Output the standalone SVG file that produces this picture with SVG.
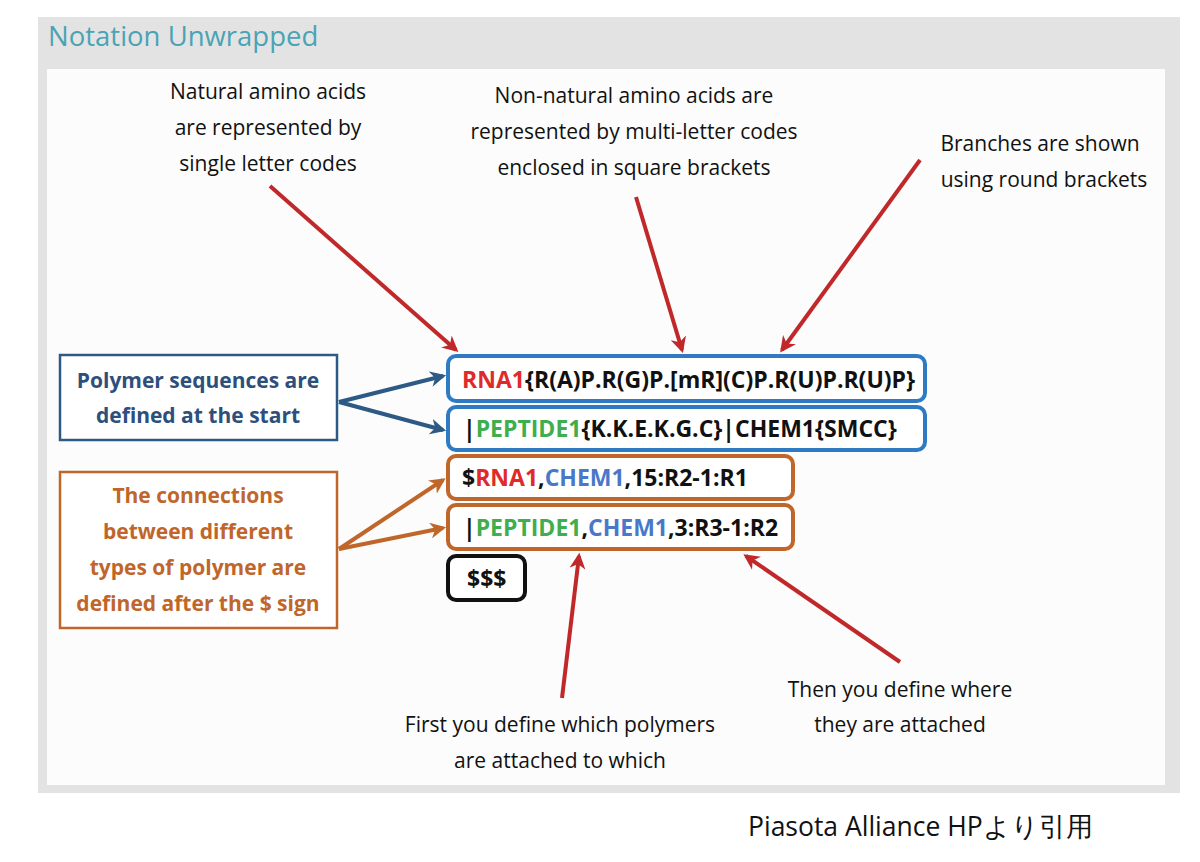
<svg xmlns="http://www.w3.org/2000/svg" width="1200" height="862" viewBox="0 0 1200 862">
<defs>
<marker id="ar" viewBox="0 0 10 10" refX="8" refY="5" markerWidth="4" markerHeight="4" orient="auto"><path d="M0,0 L10,5 L0,10 L3,5 z" fill="#c0282a"/></marker>
<marker id="ab" viewBox="0 0 10 10" refX="8" refY="5" markerWidth="4" markerHeight="4" orient="auto"><path d="M0,0 L10,5 L0,10 L3,5 z" fill="#2d5a84"/></marker>
<marker id="ao" viewBox="0 0 10 10" refX="8" refY="5" markerWidth="4" markerHeight="4" orient="auto"><path d="M0,0 L10,5 L0,10 L3,5 z" fill="#c0662a"/></marker>
</defs>
<style>
text{font-family:"Open Sans","Noto Sans",sans-serif}
.n{font-size:21px;fill:#111;text-anchor:middle}
.c{font-size:23px;font-weight:bold;fill:#111}
.r{fill:#e02a2a}.g{fill:#3fae4f}.b{fill:#4a78c8}
.bx{fill:#fff;stroke-width:4}
.lr{stroke:#c0282a;stroke-width:4;fill:none}
.lb{stroke:#2d5a84;stroke-width:4;fill:none}
.lo{stroke:#c0662a;stroke-width:4;fill:none}
</style>
<rect width="1200" height="862" fill="#fff"/>
<rect x="38" y="17" width="1142" height="776" fill="#e3e3e3"/>
<rect x="47" y="69" width="1118" height="716" fill="#fbfcfb"/>
<text x="48" y="46" font-size="27.5" fill="#4aa3b5">Notation Unwrapped</text>
<g id="t1"><text class="n" x="268" y="99">Natural amino acids</text><text class="n" x="268" y="135">are represented by</text><text class="n" x="268" y="171">single letter codes</text></g>
<g id="t2"><text class="n" x="634" y="103">Non-natural amino acids are</text><text class="n" x="634" y="139">represented by multi-letter codes</text><text class="n" x="634" y="175">enclosed in square brackets</text></g>
<g id="t3"><text class="n" x="1040" y="151">Branches are shown</text><text class="n" x="1044" y="187">using round brackets</text></g>
<g id="t4"><text class="n" x="560" y="732">First you define which polymers</text><text class="n" x="560" y="768">are attached to which</text></g>
<g id="t5"><text class="n" x="900" y="697">Then you define where</text><text class="n" x="900" y="732">they are attached</text></g>
<g id="lb"><rect x="60" y="355" width="277" height="85" fill="#fff" stroke="#2d5a84" stroke-width="2.5"/><text x="198" y="388" font-size="21" font-weight="bold" fill="#2d4f7c" text-anchor="middle">Polymer sequences are</text><text x="198" y="423" font-size="21" font-weight="bold" fill="#2d4f7c" text-anchor="middle">defined at the start</text></g>
<g id="lo"><rect x="60" y="472" width="277" height="156" fill="#fff" stroke="#c0662a" stroke-width="2.5"/>
<g font-size="21" font-weight="bold" fill="#c0662a" text-anchor="middle"><text x="198" y="503">The connections</text><text x="198" y="539">between different</text><text x="198" y="575">types of polymer are</text><text x="198" y="611">defined after the $ sign</text></g></g>
<g id="b1"><rect class="bx" x="448" y="356" width="477" height="45" rx="8" stroke="#2e7bc4"/><text class="c" x="462" y="388"><tspan class="r">RNA1</tspan>{R(A)P.R(G)P.[mR](C)P.R(U)P.R(U)P}</text></g>
<g id="b2"><rect class="bx" x="448" y="407" width="477" height="43" rx="8" stroke="#2e7bc4"/><text class="c" x="463" y="437">|<tspan class="g">PEPTIDE1</tspan>{K.K.E.K.G.C}|CHEM1{SMCC}</text></g>
<g id="b3"><rect class="bx" x="448" y="456" width="345" height="43" rx="8" stroke="#c0662a"/><text class="c" x="462" y="486">$<tspan class="r">RNA1</tspan>,<tspan class="b">CHEM1</tspan>,15:R2-1:R1</text></g>
<g id="b4"><rect class="bx" x="448" y="505" width="345" height="44" rx="8" stroke="#c0662a"/><text class="c" x="463" y="536">|<tspan class="g">PEPTIDE1</tspan>,<tspan class="b">CHEM1</tspan>,3:R3-1:R2</text></g>
<g id="b5"><rect class="bx" x="448" y="556" width="77" height="44" rx="8" stroke="#111"/><text class="c" x="467" y="587">$$$</text></g>
<g id="connectors">
<line class="lr" x1="270" y1="186" x2="456" y2="350" marker-end="url(#ar)"/>
<line class="lr" x1="636" y1="197" x2="682" y2="350" marker-end="url(#ar)"/>
<line class="lr" x1="920" y1="160" x2="782" y2="350" marker-end="url(#ar)"/>
<line class="lr" x1="562" y1="698" x2="579" y2="556" marker-end="url(#ar)"/>
<line class="lr" x1="900" y1="662" x2="746" y2="556" marker-end="url(#ar)"/>
<line class="lb" x1="339" y1="402" x2="443" y2="376" marker-end="url(#ab)"/>
<line class="lb" x1="339" y1="402" x2="443" y2="430" marker-end="url(#ab)"/>
<line class="lo" x1="339" y1="549" x2="443" y2="480" marker-end="url(#ao)"/>
<line class="lo" x1="339" y1="549" x2="443" y2="528" marker-end="url(#ao)"/>
</g>
<text x="748" y="836" font-size="26.5" fill="#111" font-family="'Liberation Sans','Noto Sans CJK JP',sans-serif">Piasota Alliance HPより引用</text>
</svg>
